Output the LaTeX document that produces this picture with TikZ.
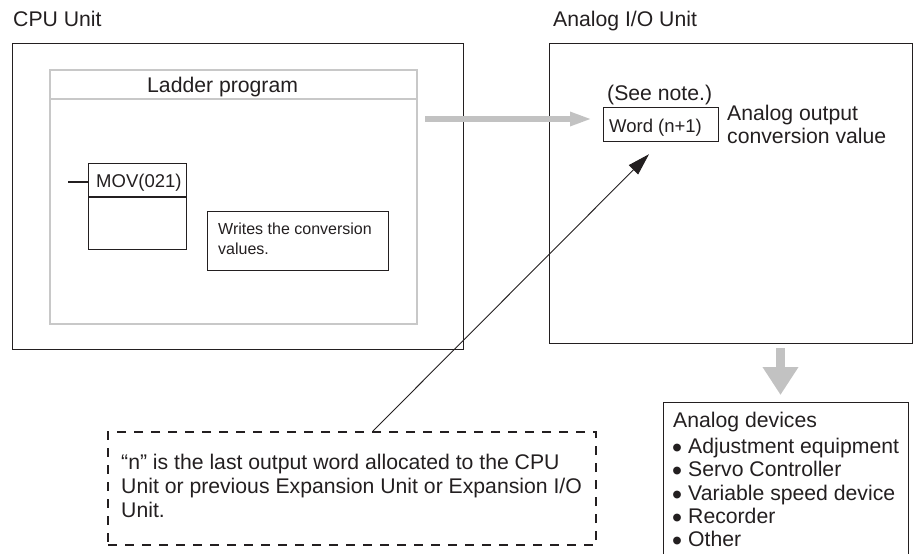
\documentclass[tikz,border=0pt]{standalone}
\usepackage{fontspec}
\setmainfont{Liberation Sans}
\usetikzlibrary{arrows.meta,calc}
\definecolor{ink}{HTML}{231F20}
\definecolor{lgray}{HTML}{C8C8C8}
\definecolor{agray}{HTML}{C2C2C2}
\newcommand{\devbullet}{\makebox[16pt][l]{\smash{\raisebox{-4pt}{\scalebox{1.35}{•}}}}}
\begin{document}
\begin{tikzpicture}[x=1pt,y=-1pt,
  box/.style={draw=ink, line width=1.3pt, inner sep=0pt, anchor=north west},
  lbl/.style={text=ink, inner sep=0pt, anchor=base west, font=\fontsize{21.2}{24}\selectfont},
  midlbl/.style={lbl, font=\fontsize{18.5}{22}\selectfont},
  smalllbl/.style={lbl, font=\fontsize{16}{20}\selectfont},
  grayarrow/.style={draw=agray, line width=5.5pt, -{Triangle[length=22pt,width=13pt]}},
  bigarrow/.style={draw=agray, line width=9pt, -{Triangle[length=28pt,width=34pt]}},
  pointer/.style={draw=ink, line width=0.9pt, -{Triangle[length=22pt,width=13pt]}}]
\useasboundingbox (0,0) rectangle (913,554);

% titles
\node[lbl] (cputitle) at (13,26.7) {CPU Unit};
\node[lbl] (aiotitle) at (553,26.7) {Analog I/O Unit};

% CPU unit
\node[box, minimum width=451pt, minimum height=306pt] (cpu) at (12,43) {};
\node[box, draw=lgray, line width=2.2pt, minimum width=367pt, minimum height=254pt] (ladder) at (49,69) {};
\draw[lgray, line width=2.2pt] (ladder.west |- 0,99) -- (ladder.east |- 0,99);
\node[lbl] (laddertitle) at (147,92) {Ladder program};

\node[box, minimum width=98pt, minimum height=86pt] (mov) at (88,163) {};
\draw[ink, line width=1.3pt] (mov.west |- 0,197) -- (mov.east |- 0,197);
\draw[ink, line width=1.3pt] (mov.west |- 0,182) -- ++(-20,0);
\node[midlbl] (movtext) at (96,187.5) {MOV(021)};

\node[box, minimum width=181pt, minimum height=59pt] (writes) at (207,211) {};
\node[smalllbl] (writes1) at (218,234.5) {Writes the conversion};
\node[smalllbl] (writes2) at (218,254.5) {values.};

% Analog I/O unit
\node[box, minimum width=363pt, minimum height=300pt] (aio) at (549,43) {};
\node[lbl] (seenote) at (607,100.5) {(See note.)};
\node[box, line width=1.2pt, minimum width=115pt, minimum height=34pt] (word) at (603,107) {};
\node[midlbl] (wordtext) at (609,132) {Word (n+1)};
\node[lbl] (aout1) at (727,120) {Analog output};
\node[lbl] (aout2) at (727,143.5) {conversion value};

% gray arrow from ladder program to word
\coordinate (ga) at (425,119);
\coordinate (gb) at (592,119);
\draw[grayarrow] (ga) -- (gb);

% note box
\node[box, line width=2pt, dash pattern=on 9pt off 8pt, minimum width=488pt, minimum height=113pt] (note) at (107,431) {};
\node[lbl] (note1) at (121,469.5) {“n” is the last output word allocated to the CPU};
\node[lbl] (note2) at (121,493.5) {Unit or previous Expansion Unit or Expansion I/O};
\node[lbl] (note3) at (121,517.5) {Unit.};

\coordinate (tip) at ($(word.south west)+(46,12)$);
\draw[pointer] ($(note.north west)+(266,0)$) -- (tip);

% analog devices
\node[box, minimum width=245pt, minimum height=170pt] (dev) at (663,402) {};
\draw[bigarrow] ($(aio.south west)+(231.5,4)$) -- ($(dev.north west)+(117.5,-7)$);
\node[lbl] (dev0) at (673,427.5) {Analog devices};
\node[lbl] (dev1) at (672,453) {\devbullet Adjustment equipment};
\node[lbl] (dev2) at (672,476.5) {\devbullet Servo Controller};
\node[lbl] (dev3) at (672,500) {\devbullet Variable speed device};
\node[lbl] (dev4) at (672,523.5) {\devbullet Recorder};
\node[lbl] (dev5) at (672,546.5) {\devbullet Other};
\end{tikzpicture}
\end{document}
